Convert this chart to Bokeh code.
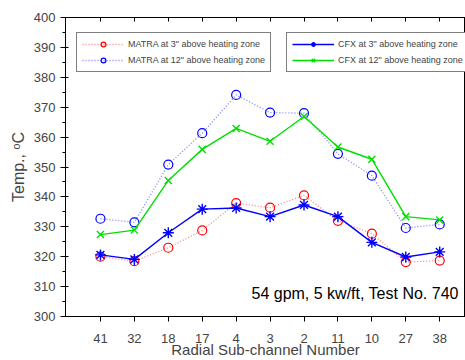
from bokeh.plotting import figure
from bokeh.models import (Legend, LegendItem, LinearAxis, FixedTicker, SingleIntervalTicker,
                          Range1d, Label)
from bokeh.embed import file_html
from bokeh.resources import INLINE

channels = ["41", "32", "18", "17", "4", "3", "2", "11", "10", "27", "38"]
matra_3 = [320.0, 318.5, 323.0, 328.8, 337.9, 336.4, 340.5, 332.0, 327.7, 318.2, 318.7]
matra_12 = [332.7, 331.5, 350.8, 361.3, 374.1, 368.2, 368.0, 354.4, 347.1, 329.6, 330.8]
cfx_3 = [320.6, 319.1, 328.0, 335.9, 336.3, 333.4, 337.3, 333.4, 324.8, 319.9, 321.6]
cfx_12 = [327.4, 328.9, 345.5, 355.9, 362.9, 358.6, 366.9, 356.7, 352.6, 333.4, 332.3]

xs = list(range(len(channels)))
FONT = "Liberation Sans"

p = figure(width=465, height=360, output_backend="svg", toolbar_location=None,
           x_range=Range1d(-1.03, 10.76), y_range=Range1d(300, 400),
           min_border_left=65, min_border_right=0, min_border_top=17, min_border_bottom=44,
           background_fill_color="white", border_fill_color="white")
p.outline_line_color = "black"
p.outline_line_width = 1
p.xgrid.visible = False
p.ygrid.visible = False

# axes
p.xaxis.ticker = FixedTicker(ticks=xs)
p.xaxis.major_label_overrides = {i: c for i, c in enumerate(channels)}
p.xaxis.axis_label = "Radial Sub-channel Number"
p.yaxis.axis_label = "Temp., \u1d52C"
p.yaxis.ticker = SingleIntervalTicker(interval=10, num_minor_ticks=2)
for ax in (p.xaxis[0], p.yaxis[0]):
    ax.axis_label_text_font = FONT
    ax.axis_label_text_font_style = "normal"
    ax.axis_label_text_font_size = "15px"
    ax.major_label_text_font = FONT
    ax.major_label_text_font_size = "13px"
    ax.axis_line_color = "black"
    ax.major_tick_line_color = "black"
    ax.minor_tick_line_color = "black"
    ax.major_tick_out = 5
    ax.major_tick_in = 3
    ax.minor_tick_out = 3
    ax.minor_tick_in = 0
p.yaxis.axis_label_text_font_size = "16px"
p.xaxis.minor_tick_line_color = None
p.xaxis.major_tick_in = 0
p.xaxis.major_label_standoff = 12
p.xaxis.axis_label_standoff = -5
p.yaxis.axis_label_standoff = 4

top = LinearAxis(ticker=FixedTicker(ticks=xs), major_label_text_font_size="0px",
                 major_tick_in=4, major_tick_out=0, minor_tick_line_color=None,
                 axis_line_color="black")
top.major_label_overrides = {i: "" for i in xs}
p.add_layout(top, "above")

# series
r_m3_line = p.line(xs, matra_3, line_color="#ff8080", line_dash="1 2", line_width=1.3)
r_m3_pts = p.scatter(xs, matra_3, marker="circle", size=9, line_color="#ff0000",
                     fill_color=None, line_width=1.2)
r_m12_line = p.line(xs, matra_12, line_color="#8080ff", line_dash="1 2", line_width=1.3)
r_m12_pts = p.scatter(xs, matra_12, marker="circle", size=9, line_color="#0000ff",
                      fill_color=None, line_width=1.2)
r_c3_line = p.line(xs, cfx_3, line_color="#0000ff", line_width=1.4)
r_c3_pts = p.scatter(xs, cfx_3, marker="asterisk", size=11, line_color="#0000ff",
                     line_width=1.4)
r_c12_line = p.line(xs, cfx_12, line_color="#00e000", line_width=1.4)
r_c12_pts = p.scatter(xs, cfx_12, marker="x", size=10, line_color="#00e000",
                      line_width=1.4)

def make_legend(items, loc):
    lg = Legend(items=items, location=loc, orientation="vertical",
                label_text_font=FONT, label_text_font_size="9px",
                label_height=12, glyph_height=12, glyph_width=42, spacing=4,
                padding=5, margin=0, label_standoff=4,
                border_line_color="black", border_line_width=1,
                background_fill_color="white", background_fill_alpha=1)
    return lg

leg1 = make_legend([
    LegendItem(label='MATRA at 3" above heating zone', renderers=[r_m3_line, r_m3_pts]),
    LegendItem(label='MATRA at 12" above heating zone', renderers=[r_m12_line, r_m12_pts]),
], (11, 244))
leg2 = make_legend([
    LegendItem(label='CFX at 3" above heating zone', renderers=[r_c3_line, r_c3_pts]),
    LegendItem(label='CFX at 12" above heating zone', renderers=[r_c12_line, r_c12_pts]),
], (221, 244))
p.add_layout(leg1, "center")
p.add_layout(leg2, "center")

note = Label(x=10.56, y=307.6, text="54 gpm, 5 kw/ft, Test No. 740", text_align="right",
             text_baseline="alphabetic", text_font=FONT, text_font_size="16px",
             text_color="black")
p.add_layout(note)

open("out.html", "w").write(file_html(p, INLINE))
